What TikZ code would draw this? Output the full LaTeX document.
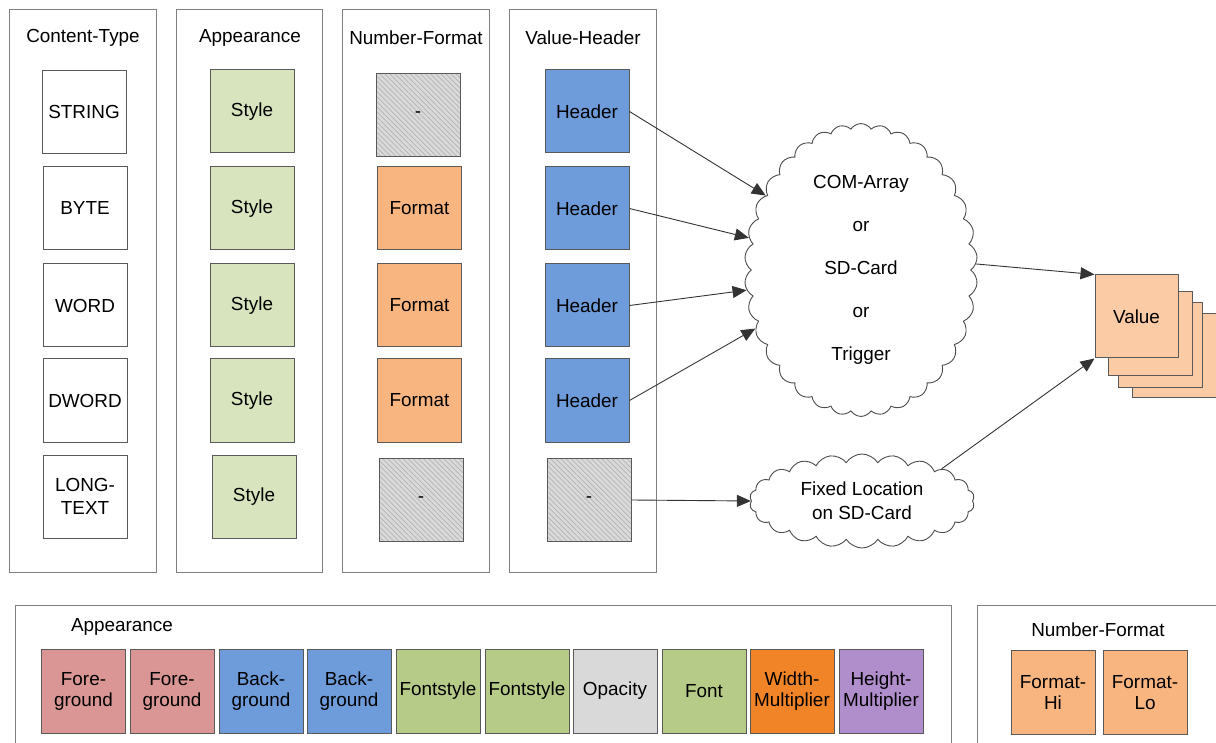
\documentclass[tikz,border=0pt]{standalone}
\usepackage{fontspec}
\setmainfont{Liberation Sans}
\usepackage{xcolor}
\usetikzlibrary{shapes.symbols, arrows.meta, patterns.meta}

\definecolor{stylegreen}{HTML}{D7E4BD}
\definecolor{formatorange}{HTML}{F9B57F}
\definecolor{headerblue}{HTML}{6E9CDB}
\definecolor{valuepeach}{HTML}{FBCBA5}
\definecolor{forered}{HTML}{D99694}
\definecolor{fontgreen}{HTML}{B7CB88}
\definecolor{opacitygray}{HTML}{D9D9D9}
\definecolor{widthorange}{HTML}{F08426}
\definecolor{heightpurple}{HTML}{B08DCB}
\definecolor{hatchgray}{HTML}{DADADA}

\begin{document}
\begin{tikzpicture}[
  x=0.5pt, y=-0.5pt,
  font=\fontsize{9.45}{10.5}\selectfont,
  frame/.style={draw=black!50, line width=0.5pt},
  cell/.style={draw=black!65, line width=0.5pt, minimum width=42pt, minimum height=41.5pt, inner sep=1pt, align=center},
  hatched/.style={cell, preaction={fill=hatchgray}, pattern={Lines[angle=-45, distance=1.8pt, line width=0.35pt]}, pattern color=black!30},
  tile/.style={cell, minimum height=42pt},
  conn/.style={draw=black!80, line width=0.45pt, -{Triangle[length=7pt, width=6pt]}},
  puffy/.style={cloud, draw=black!70, line width=0.45pt, fill=white, cloud ignores aspect, align=center},
]
  \useasboundingbox (0,0) rectangle (1216,743);

  % ── Content-Type column ──
  \draw[frame] (9,10) rectangle (156,572);
  \node (cttitle) at (83,38) {Content-Type};
  \node[cell] (string) at (84,112) {STRING};
  \node[cell] (byte) at (85,208.5) {BYTE};
  \node[cell] (word) at (85,305.5) {WORD};
  \node[cell] (dword) at (85,400.5) {DWORD};
  \node[cell] (longtext) at (85,496.5) {LONG-\\[1pt]TEXT};

  % ── Appearance column ──
  \draw[frame] (176,10) rectangle (322,572);
  \node (aptitle) at (250,38) {Appearance};
  \node[cell, fill=stylegreen] (style1) at (252,111.5) {Style};
  \node[cell, fill=stylegreen] (style2) at (252,208.5) {Style};
  \node[cell, fill=stylegreen] (style3) at (252,305.5) {Style};
  \node[cell, fill=stylegreen] (style4) at (252,400.5) {Style};
  \node[cell, fill=stylegreen] (style5) at (254,496.5) {Style};

  % ── Number-Format column ──
  \draw[frame] (342,10) rectangle (489,572);
  \node (nftitle) at (416,38) {Number-Format};
  \node[hatched] (nfnone1) at (418,115) {-};
  \node[cell, fill=formatorange] (format2) at (419.5,208.5) {Format};
  \node[cell, fill=formatorange] (format3) at (419.5,305.5) {Format};
  \node[cell, fill=formatorange] (format4) at (419.5,400.5) {Format};
  \node[hatched] (nfnone5) at (421,500) {-};

  % ── Value-Header column ──
  \draw[frame] (509,10) rectangle (656,572);
  \node (vhtitle) at (583,38) {Value-Header};
  \node[cell, fill=headerblue] (header1) at (587,111.5) {Header};
  \node[cell, fill=headerblue] (header2) at (587,208.5) {Header};
  \node[cell, fill=headerblue] (header3) at (587,305.5) {Header};
  \node[cell, fill=headerblue] (header4) at (587,400.5) {Header};
  \node[hatched] (vhnone5) at (589,500) {-};

  % ── Sources ──
  \node[puffy, cloud puffs=34, cloud puff arc=115, minimum width=116.5pt, minimum height=145pt] (com) at (861,270)
    {COM-Array\\[11pt]or\\[11pt]SD-Card\\[11pt]or\\[11pt]Trigger};
  \node[puffy, cloud puffs=22, cloud puff arc=115, minimum width=112.5pt, minimum height=47pt] (fixed) at (862,501)
    {Fixed Location\\[1.5pt]on SD-Card};

  % ── Value stack ──
  \node[cell, fill=valuepeach, minimum height=42pt] (val4) at (1174,355.5) {};
  \node[cell, fill=valuepeach, minimum height=42pt] (val3) at (1160,345) {};
  \node[cell, fill=valuepeach, minimum height=42pt] (val2) at (1150,333.5) {};
  \node[cell, fill=valuepeach, minimum height=41.5pt, minimum width=41.5pt] (val) at (1136.5,316.5) {Value};

  % ── Connectors ──
  \draw[conn] (header1.east) -- (com.142);
  \draw[conn] (header2.east) -- (com.164);
  \draw[conn] (header3.east) -- (com.190);
  \draw[conn] (header4.east) -- (com.209);
  \draw[conn] (vhnone5.east) -- (fixed.west);
  \draw[conn] (com.3) -- (val.north west);
  \draw[conn] (fixed.22) -- (val.south west);

  % ── Appearance legend ──
  \draw[frame] (15,605) rectangle (951,760);
  \node (aplegend) at (122,627) {Appearance};
  \node[tile, fill=forered] (fore1) at (83.5,691) {Fore-\\ground};
  \node[tile, fill=forered] (fore2) at (172,691) {Fore-\\ground};
  \node[tile, fill=headerblue] (back1) at (261,691) {Back-\\ground};
  \node[tile, fill=headerblue] (back2) at (349,691) {Back-\\ground};
  \node[tile, fill=fontgreen] (fstyle1) at (438,691) {Fontstyle};
  \node[tile, fill=fontgreen] (fstyle2) at (527,691) {Fontstyle};
  \node[tile, fill=opacitygray] (opacity) at (615,691) {Opacity};
  \node[tile, fill=fontgreen] (font) at (704,691) {Font};
  \node[tile, fill=widthorange] (widthmul) at (792,691) {Width-\\Multiplier};
  \node[tile, fill=heightpurple] (heightmul) at (881,691) {Height-\\Multiplier};

  % ── Number-Format legend ──
  \draw[frame] (977,605) rectangle (1230,760);
  \node (nflegend) at (1098,630) {Number-Format};
  \node[tile, fill=formatorange] (formathi) at (1053,692.5) {Format-\\Hi};
  \node[tile, fill=formatorange] (formatlo) at (1145,692.5) {Format-\\Lo};

\end{tikzpicture}
\end{document}
